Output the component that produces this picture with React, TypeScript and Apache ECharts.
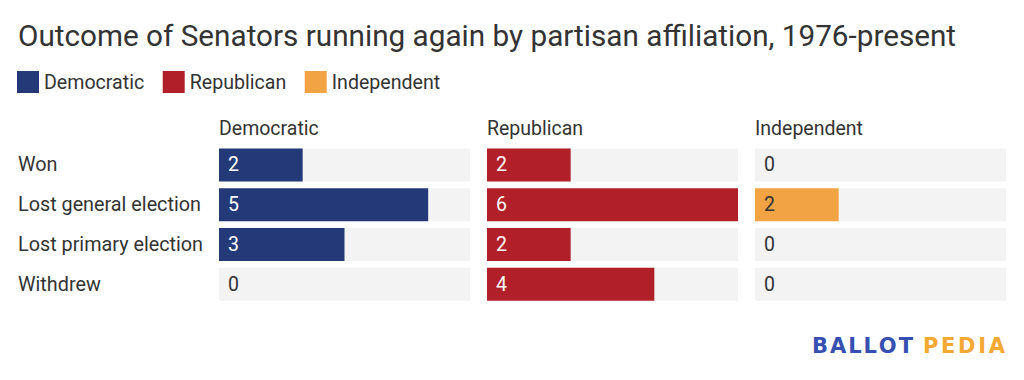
import React, { useEffect, useRef } from "react";
import * as echarts from "echarts";

const titleText = "Outcome of Senators running again by partisan affiliation, 1976-present";
const outcomes = ["Won", "Lost general election", "Lost primary election", "Withdrew"];
const parties = ["Democratic", "Republican", "Independent"];
const democraticValues = [2, 5, 3, 0];
const republicanValues = [2, 6, 2, 4];
const independentValues = [0, 2, 0, 0];
const partyColors = ["#243a78", "#b11f29", "#f2a444"];
const axisMax = 6;
const logoWords = ["BALLOT", "PEDIA"];

export default function App() {
  const ref = useRef<HTMLDivElement>(null);
  useEffect(() => {
    document.body.style.margin = "0";
    const chart = echarts.init(ref.current!, null, { renderer: "svg" });
    const font = "Roboto";
    const text = "#333333";
    const lefts = [219, 487, 755];
    const gridW = 251;
    const top = 145;
    const height = 159;
    const values = [democraticValues, republicanValues, independentValues];

    const grids = lefts.map((l) => ({ left: l, top, width: gridW, height }));
    const xAxes = lefts.map((_, i) => ({
      type: "value",
      gridIndex: i,
      min: 0,
      max: axisMax,
      show: false,
    }));
    const yAxes = lefts.map((_, i) => ({
      type: "category",
      gridIndex: i,
      data: outcomes,
      inverse: true,
      axisLine: { show: false },
      axisTick: { show: false },
      axisLabel: {
        show: i === 0,
        align: "left",
        margin: 201,
        fontFamily: font,
        fontSize: 19.8,
        color: text,
      },
    }));
    const series = parties.map((p, i) => ({
      type: "bar",
      name: p,
      xAxisIndex: i,
      yAxisIndex: i,
      barWidth: 33,
      itemStyle: { color: partyColors[i] },
      showBackground: true,
      backgroundStyle: { color: "#f3f3f3" },
      data: values[i].map((v) => ({
        value: v,
        label: { color: v > 0 && i < 2 ? "#ffffff" : text },
      })),
      label: {
        show: true,
        position: "insideLeft",
        distance: 9,
        fontFamily: font,
        fontSize: 19.5,
      },
    }));

    // logo letters, spaced to fill each word's span
    const logoFont = "bold 21px 'DejaVu Sans'";
    const canvas = document.createElement("canvas");
    const ctx = canvas.getContext("2d")!;
    ctx.font = logoFont;
    const wordSpans = [
      [812, 913],
      [923, 1005],
    ];
    const logoColors = ["#3550b0", "#f5a833"];
    const logoEls: any[] = [];
    logoWords.forEach((w, wi) => {
      const widths = w.split("").map((c) => ctx.measureText(c).width);
      const total = widths.reduce((a, b) => a + b, 0);
      const span = wordSpans[wi][1] - wordSpans[wi][0];
      const gap = (span - total) / (w.length - 1);
      let x = wordSpans[wi][0];
      w.split("").forEach((c, ci) => {
        logoEls.push({
          type: "text",
          x,
          y: 346,
          style: {
            text: c,
            fontFamily: "DejaVu Sans",
            fontWeight: "bold",
            fontSize: 21,
            fill: logoColors[wi],
            textVerticalAlign: "middle",
          },
        });
        x += widths[ci] + gap;
      });
    });

    chart.setOption({
      animation: false,
      textStyle: { fontFamily: font },
      title: {
        text: titleText,
        left: 13,
        top: 15,
        textStyle: { fontFamily: font, fontSize: 29.7, fontWeight: "normal", color: "#333333" },
      },
      legend: {
        data: parties,
        left: 17,
        top: 71,
        padding: 0,
        itemWidth: 22,
        itemHeight: 22,
        itemGap: 18.5,
        icon: "rect",
        textStyle: { fontFamily: font, fontSize: 19.6, color: text },
      },
      grid: grids,
      xAxis: xAxes,
      yAxis: yAxes,
      series,
      graphic: [
        ...parties.map((p, i) => ({
          type: "text",
          x: lefts[i],
          y: 128,
          style: { text: p, fontFamily: font, fontSize: 19.5, fill: text, textVerticalAlign: "middle" },
        })),
        ...logoEls,
      ],
    });
    return () => chart.dispose();
  }, []);
  return <div ref={ref} style={{ width: 1024, height: 380 }} />;
}
